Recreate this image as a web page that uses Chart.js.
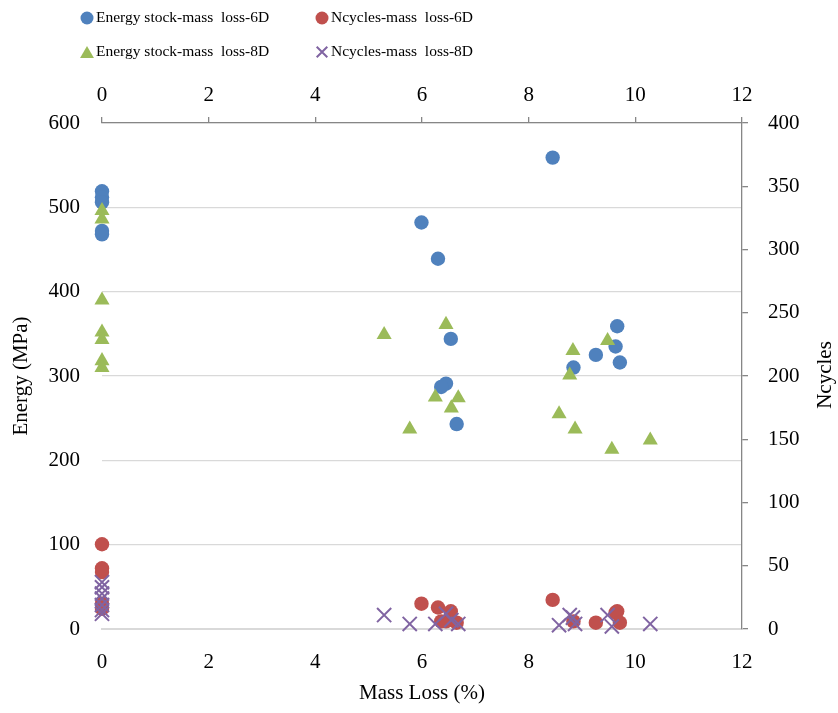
<!DOCTYPE html>
<html>
<head>
<meta charset="utf-8">
<script src="https://cdn.jsdelivr.net/npm/chart.js@4/dist/chart.umd.min.js"></script>
<style>
  html, body { margin: 0; padding: 0; background: #fff; }
  #wrap { width: 838px; height: 713px; }
</style>
</head>
<body>
<div id="wrap"><canvas id="c" width="838" height="713"></canvas></div>
<script>
// ---- Data ----
const seriesNames = [
  "Energy stock-mass  loss-6D",
  "Ncycles-mass  loss-6D",
  "Energy stock-mass  loss-8D",
  "Ncycles-mass  loss-8D"
];
const massLoss6D = [0, 0, 0, 0, 0, 5.99, 6.30, 6.54, 6.45, 6.36, 6.65, 8.45, 9.66, 9.63, 9.26, 9.71, 8.84];
const energy6D   = [519, 512, 506, 472, 468, 482, 439, 344, 291, 287, 243, 559, 359, 335, 325, 316, 310];
const ncycles6D  = [67, 48, 45, 20, 16, 20, 17, 14, 6, 6, 5, 23, 14, 13, 5, 5, 6];

const massLoss8D = [0, 0, 0, 0, 0, 0, 0, 5.29, 6.45, 9.48, 8.83, 8.77, 6.25, 6.68, 6.55, 5.77, 8.57, 8.87, 9.56, 10.28];
const energy8D   = [496, 486, 390, 352, 343, 318, 310, 349, 361, 342, 330, 301, 275, 274, 262, 237, 255, 237, 213, 224];
const ncycles8D  = [37, 33, 28, 24, 19, 15, 12, 11, 12, 11, 9, 11, 4, 4, 7, 4, 3, 4, 2, 4];

const massTicks = [0, 2, 4, 6, 8, 10, 12];
const energyRange = [0, 600];
const ncyclesRange = [0, 400];

// ---- Styles ----
const COLORS = ["#4F81BD", "#C0504D", "#9BBB59", "#8064A2"];
const FONT = "'Liberation Serif', 'Times New Roman', serif";
Chart.defaults.font.family = FONT;
Chart.defaults.color = "#000";

function pts(xs, ys) { return xs.map((x, i) => ({ x: x, y: ys[i] })); }

const datasets = [
  { label: seriesNames[0], data: pts(massLoss6D, energy6D), yAxisID: 'y', xAxisID: 'x',
    pointStyle: 'circle', pointRadius: 7.2, backgroundColor: COLORS[0], borderColor: COLORS[0], borderWidth: 0, order: 4 },
  { label: seriesNames[1], data: pts(massLoss6D, ncycles6D), yAxisID: 'y2', xAxisID: 'x',
    pointStyle: 'circle', pointRadius: 7.2, backgroundColor: COLORS[1], borderColor: COLORS[1], borderWidth: 0, order: 3 },
  { label: seriesNames[2], data: pts(massLoss8D, energy8D), yAxisID: 'y', xAxisID: 'x',
    pointStyle: 'triangle', pointRadius: 8.7, backgroundColor: COLORS[2], borderColor: COLORS[2], borderWidth: 0, order: 2 },
  { label: seriesNames[3], data: pts(massLoss8D, ncycles8D), yAxisID: 'y2', xAxisID: 'x',
    pointStyle: 'crossRot', pointRadius: 10, backgroundColor: COLORS[3], borderColor: COLORS[3], borderWidth: 2, order: 1 }
];
datasets.forEach(d => { d.clip = false; d.showLine = false; d.pointHoverRadius = d.pointRadius; });

// custom 2x2 legend + right-axis title reading bottom-to-top
const legendLayout = [
  { mx: 87, tx: 96, y: 18 },
  { mx: 322, tx: 331, y: 18 },
  { mx: 87, tx: 96, y: 52 },
  { mx: 322, tx: 331, y: 52 }
];
const legendRadius = [6.5, 6.5, 8, 7.5];
const extras = {
  id: 'extras',
  afterDraw(chart) {
    const ctx = chart.ctx;
    ctx.save();
    datasets.forEach((d, i) => {
      const L = legendLayout[i];
      ctx.fillStyle = d.backgroundColor;
      ctx.strokeStyle = d.borderColor;
      ctx.lineWidth = d.borderWidth || 0;
      Chart.helpers.drawPoint(ctx, { pointStyle: d.pointStyle, radius: legendRadius[i], rotation: 0, borderWidth: d.borderWidth }, L.mx, L.y + (d.pointStyle === 'triangle' ? 2 : 0));
      ctx.fillStyle = '#000';
      ctx.font = "15.5px " + FONT;
      ctx.textAlign = 'left';
      ctx.textBaseline = 'middle';
      ctx.fillText(d.label, L.tx, L.y);
    });
    // right axis title
    ctx.translate(825, 375);
    ctx.rotate(-Math.PI / 2);
    ctx.font = "21px " + FONT;
    ctx.textAlign = 'center';
    ctx.textBaseline = 'middle';
    ctx.fillStyle = '#000';
    ctx.fillText('Ncycles', 0, 0);
    ctx.restore();
  }
};

new Chart(document.getElementById('c'), {
  type: 'scatter',
  data: { datasets: datasets },
  options: {
    responsive: false,
    animation: false,
    layout: { padding: 0 },
    plugins: { legend: { display: false }, tooltip: { enabled: false } },
    scales: {
      x: {
        type: 'linear', position: 'bottom', min: massTicks[0], max: massTicks[massTicks.length - 1],
        afterBuildTicks: s => { s.ticks = massTicks.map(v => ({ value: v })); },
        afterFit: s => { s.height = 84; },
        grid: { display: false, drawTicks: false },
        border: { display: true, color: '#d9d9d9', width: 2 },
        ticks: { font: { size: 21 }, padding: 21, color: '#000' },
        title: { display: true, text: 'Mass Loss (%)', font: { size: 21 }, padding: { bottom: 7 }, color: '#000' }
      },
      x2: {
        type: 'linear', position: 'top', min: massTicks[0], max: massTicks[massTicks.length - 1],
        afterBuildTicks: s => { s.ticks = massTicks.map(v => ({ value: v })); },
        afterFit: s => { s.height = 123; },
        grid: { display: true, drawOnChartArea: false, drawTicks: true, tickLength: 6, color: '#868686', lineWidth: 1.3 },
        border: { display: true, color: '#868686', width: 1.3 },
        ticks: { font: { size: 21 }, padding: 9, color: '#000' }
      },
      y: {
        type: 'linear', position: 'left', min: energyRange[0], max: energyRange[1],
        ticks: { stepSize: 100, font: { size: 21 }, padding: 22, color: '#000' },
        afterFit: s => { s.width = 102; },
        grid: { display: true, drawTicks: false, color: '#d9d9d9', lineWidth: 1.3 },
        border: { display: false },
        title: { display: true, text: 'Energy (MPa)', font: { size: 21 }, padding: { top: 9 }, color: '#000' }
      },
      y2: {
        type: 'linear', position: 'right', min: ncyclesRange[0], max: ncyclesRange[1],
        ticks: { stepSize: 50, font: { size: 21 }, padding: 20, color: '#000' },
        afterFit: s => { s.width = 96; },
        grid: { display: true, drawOnChartArea: false, drawTicks: true, tickLength: 6, color: '#868686', lineWidth: 1.3 },
        border: { display: true, color: '#868686', width: 1.3 }
      }
    }
  },
  plugins: [extras]
});
</script>
</body>
</html>
